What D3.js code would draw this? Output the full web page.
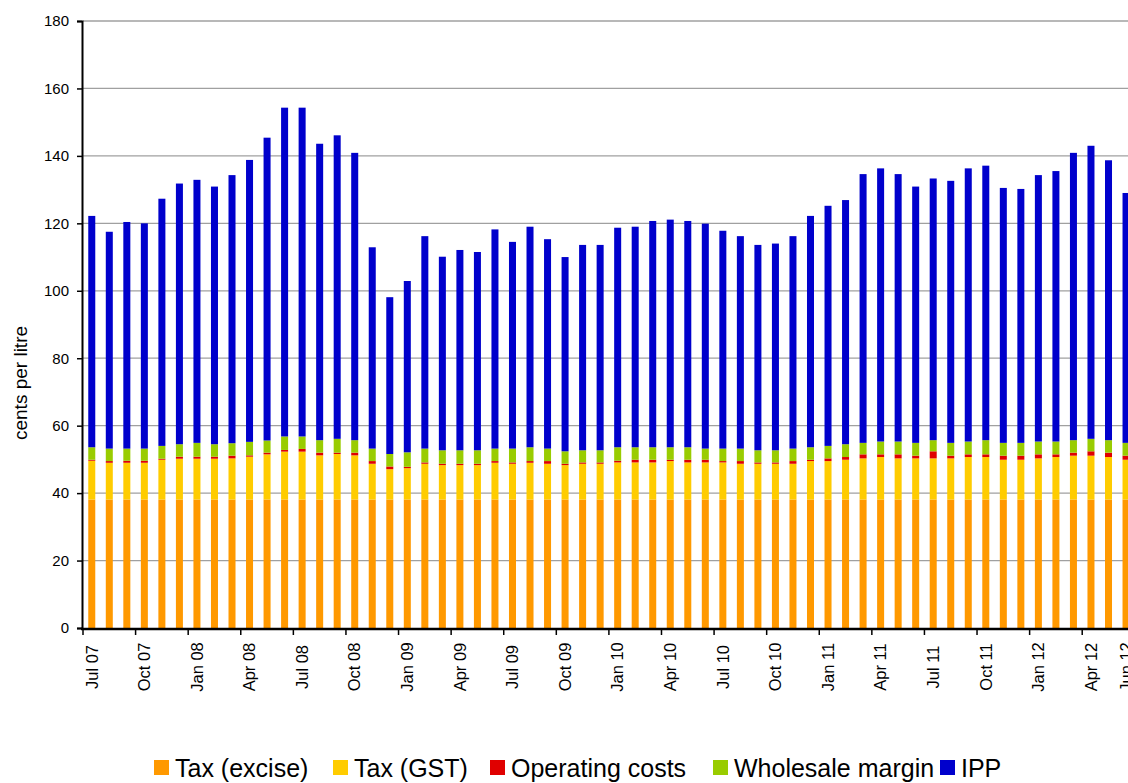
<!DOCTYPE html>
<html>
<head>
<meta charset="utf-8">
<script src="https://cdn.jsdelivr.net/npm/d3@7"></script>
<style>
  body { margin: 0; background: #fff; }
  svg { display: block; font-family: Arial, "Liberation Sans", sans-serif; }
</style>
</head>
<body>
<div id="chart"></div>
<script>
// Months (categories)
const months = [
  'Jul 07','Aug 07','Sep 07','Oct 07','Nov 07','Dec 07','Jan 08','Feb 08','Mar 08','Apr 08','May 08','Jun 08',
  'Jul 08','Aug 08','Sep 08','Oct 08','Nov 08','Dec 08','Jan 09','Feb 09','Mar 09','Apr 09','May 09','Jun 09',
  'Jul 09','Aug 09','Sep 09','Oct 09','Nov 09','Dec 09','Jan 10','Feb 10','Mar 10','Apr 10','May 10','Jun 10',
  'Jul 10','Aug 10','Sep 10','Oct 10','Nov 10','Dec 10','Jan 11','Feb 11','Mar 11','Apr 11','May 11','Jun 11',
  'Jul 11','Aug 11','Sep 11','Oct 11','Nov 11','Dec 11','Jan 12','Feb 12','Mar 12','Apr 12','May 12','Jun 12'
];

// Labelled months on the x axis
const tickMonths = ['Jul 07','Oct 07','Jan 08','Apr 08','Jul 08','Oct 08','Jan 09','Apr 09','Jul 09','Oct 09',
  'Jan 10','Apr 10','Jul 10','Oct 10','Jan 11','Apr 11','Jul 11','Oct 11','Jan 12','Apr 12','Jun 12'];

// Components, cents per litre
const excise = [
  38.1,38.1,38.1,38.1,38.1,38.1,38.1,38.1,38.1,38.1,38.1,38.1,
  38.1,38.1,38.1,38.1,38.1,38.1,38.1,38.1,38.1,38.1,38.1,38.1,
  38.1,38.1,38.1,38.1,38.1,38.1,38.1,38.1,38.1,38.1,38.1,38.1,
  38.1,38.1,38.1,38.1,38.1,38.1,38.1,38.1,38.1,38.1,38.1,38.1,
  38.1,38.1,38.1,38.1,38.1,38.1,38.1,38.1,38.1,38.1,38.1,38.1
];
const gst = [
  11.5,10.9,10.9,10.9,11.8,12.1,12.1,12.1,12.2,12.7,13.4,14.2,
  14.2,13.1,13.5,13.1,10.6,9.0,9.3,10.6,10.2,10.2,10.2,10.9,
  10.6,10.9,10.6,10.2,10.6,10.6,11.0,11.0,11.0,11.4,11.0,11.0,
  11.0,10.6,10.6,10.6,10.6,11.4,11.4,11.8,12.2,12.6,12.2,12.2,
  12.2,12.2,12.6,12.6,11.8,11.8,12.2,12.6,13.0,13.0,12.6,11.8
];
const opCosts = [
  0.3,0.5,0.6,0.6,0.3,0.6,0.6,0.6,0.8,0.4,0.5,0.5,
  0.8,0.8,0.4,0.8,0.8,0.8,0.4,0.4,0.4,0.4,0.4,0.5,
  0.4,0.5,0.8,0.4,0.4,0.4,0.5,0.8,0.8,0.4,0.8,0.8,
  0.4,0.8,0.4,0.4,0.8,0.4,0.8,0.8,1.2,0.8,1.2,0.8,
  2.1,0.8,0.8,0.8,1.2,1.2,1.2,0.8,0.9,1.3,1.3,1.2
];
const wholesale = [
  3.7,3.7,3.6,3.6,3.8,3.7,4.1,3.7,3.7,4.0,3.6,4.0,
  3.7,3.7,4.1,3.7,3.7,3.7,4.3,4.1,4.0,4.0,4.0,3.7,
  4.1,4.1,3.7,3.7,3.6,3.6,4.0,3.7,3.7,3.7,3.7,3.3,
  3.7,3.7,3.6,3.6,3.7,3.7,3.7,3.8,3.4,3.8,3.8,3.8,
  3.3,3.8,3.8,4.2,3.8,3.8,3.8,3.8,3.7,3.7,3.7,3.8
];
const ipp = [
  68.6,64.3,67.2,66.8,73.3,77.3,78.0,76.4,79.5,83.6,89.8,97.5,
  97.5,87.9,90.0,85.2,59.7,46.5,50.8,63.0,57.4,59.4,58.8,65.0,
  61.3,65.4,62.1,57.6,60.9,60.9,65.1,65.4,67.1,67.5,67.1,66.7,
  64.6,63.0,60.9,61.3,63.0,68.6,71.2,72.4,79.7,81.0,79.3,76.0,
  77.6,77.7,81.0,81.4,75.6,75.3,79.0,80.2,85.2,86.9,83.0,74.1
];

const seriesNames = ['Tax (excise)', 'Tax (GST)', 'Operating costs', 'Wholesale margin', 'IPP'];
const seriesColors = ['#FF9900', '#FFCC00', '#E00000', '#99CC00', '#0000CC'];
const yTicks = [0, 20, 40, 60, 80, 100, 120, 140, 160, 180];

// Build rows for the stack
const keys = ['excise', 'gst', 'opCosts', 'wholesale', 'ipp'];
const rows = months.map((m, i) => ({
    month: m, excise: excise[i], gst: gst[i], opCosts: opCosts[i], wholesale: wholesale[i], ipp: ipp[i]
}));
const stacked = d3.stack().keys(keys)(rows);

const W = 1128, H = 783;
const margin = { top: 21, left: 83, bottom: 155 };
const plotBottom = H - margin.bottom;
const step = 17.53;

const svg = d3.select('#chart')
    .append('svg')
    .attr('width', W)
    .attr('height', H);

// X scale: one band per month, bar centred in its slot
const x = d3.scaleBand()
    .domain(months)
    .range([margin.left, margin.left + step * months.length])
    .paddingInner(0.6)
    .paddingOuter(0.3);

const y = d3.scaleLinear()
    .domain([0, 180])
    .range([plotBottom, margin.top]);

// Gridlines
svg.append('g')
    .selectAll('line')
    .data(yTicks.filter(d => d > 0))
    .enter()
    .append('line')
    .attr('x1', margin.left)
    .attr('x2', W)
    .attr('y1', d => y(d))
    .attr('y2', d => y(d))
    .attr('stroke', '#a0a0a0')
    .attr('stroke-width', 1.3);

// Bars
const layers = svg.append('g')
    .selectAll('g')
    .data(stacked)
    .enter()
    .append('g')
    .attr('fill', (d, i) => seriesColors[i]);

layers.selectAll('rect')
    .data(d => d)
    .enter()
    .append('rect')
    .attr('x', d => x(d.data.month))
    .attr('width', x.bandwidth())
    .attr('y', d => y(d[1]))
    .attr('height', d => y(d[0]) - y(d[1]));

// Y axis
const yAxis = svg.append('g')
    .attr('transform', `translate(${margin.left - 1},0)`)
    .call(d3.axisLeft(y).tickValues(yTicks).tickSize(5).tickPadding(8));
yAxis.select('.domain').attr('stroke', '#000').attr('stroke-width', 2);
yAxis.selectAll('.tick line').attr('stroke', '#000').attr('stroke-width', 1.5);
yAxis.selectAll('text')
    .attr('fill', '#000')
    .style('font-size', '15px');

// X axis: labels at band centres, tick marks on category boundaries
const xAxis = svg.append('g')
    .attr('transform', `translate(0,${plotBottom + 1})`)
    .call(d3.axisBottom(x).tickValues(tickMonths).tickSize(6).tickSizeOuter(0));
xAxis.select('.domain')
    .attr('stroke', '#000')
    .attr('stroke-width', 2.5)
    .attr('d', `M${margin.left - 2},0H${W}`);
xAxis.selectAll('.tick line')
    .attr('stroke', '#000')
    .attr('stroke-width', 1.5)
    .attr('x1', -x.step() / 2)
    .attr('x2', -x.step() / 2)
    .attr('display', d => d === 'Jun 12' ? 'none' : null);
xAxis.selectAll('.tick text')
    .attr('fill', '#000')
    .style('font-size', '16.5px')
    .attr('transform', 'rotate(-90)')
    .attr('x', -38)
    .attr('y', 0)
    .attr('dy', '0.35em')
    .style('text-anchor', 'middle');

// Y axis title
svg.append('text')
    .attr('transform', `translate(20, 383) rotate(-90)`)
    .attr('dy', '0.35em')
    .style('text-anchor', 'middle')
    .style('font-size', '19px')
    .text('cents per litre');

// Legend
const legendX = [154, 333, 490, 713, 940];
const legend = svg.append('g')
    .selectAll('g')
    .data(seriesNames)
    .enter()
    .append('g')
    .attr('transform', (d, i) => `translate(${legendX[i]}, 760)`);

legend.append('rect')
    .attr('width', 15)
    .attr('height', 15)
    .attr('fill', (d, i) => seriesColors[i]);

legend.append('text')
    .attr('x', 21)
    .attr('y', 17)
    .style('font-size', '25px')
    .text(d => d);
</script>
</body>
</html>
